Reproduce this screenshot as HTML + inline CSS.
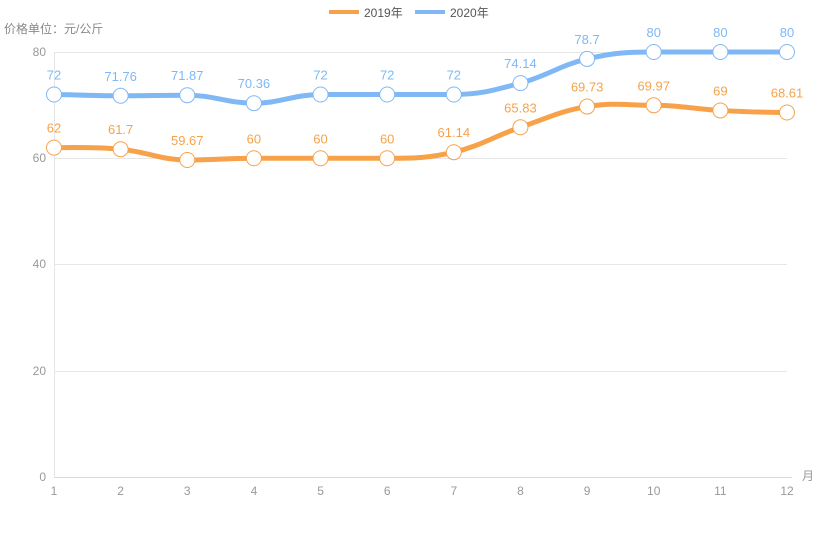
<!DOCTYPE html>
<html><head><meta charset="utf-8"><style>
body{margin:0;background:#fff;}
svg{display:block;font-family:"Liberation Sans","Noto Sans CJK SC",sans-serif;}
</style></head><body>
<svg id="c" width="838" height="545" xmlns="http://www.w3.org/2000/svg">
<rect width="838" height="545" fill="#fff"/>
<g stroke="#e6e6e6" stroke-width="1">
<line x1="54" y1="52.5" x2="787" y2="52.5"/>
<line x1="54" y1="158.5" x2="787" y2="158.5"/>
<line x1="54" y1="264.5" x2="787" y2="264.5"/>
<line x1="54" y1="371.5" x2="787" y2="371.5"/>
<line x1="54.5" y1="52" x2="54.5" y2="477"/>
</g>
<line x1="54" y1="477.5" x2="792" y2="477.5" stroke="#d8d8d8"/>
<g font-size="12" fill="#999" text-anchor="end">
<text x="46" y="56">80</text><text x="46" y="162">60</text><text x="46" y="268">40</text>
<text x="46" y="375">20</text><text x="46" y="481">0</text>
</g>
<text x="4" y="33" font-size="12" fill="#888">价格单位：元/公斤</text>
<text x="802" y="480" font-size="12" fill="#999">月</text>
<g id="xl" font-size="12" fill="#999" text-anchor="middle"></g>
<rect x="329" y="10" width="30" height="4" fill="#f7a24a"/>
<text x="364" y="17" font-size="12" fill="#555">2019年</text>
<rect x="415" y="10" width="30" height="4" fill="#7fb8f5"/>
<text x="450" y="17" font-size="12" fill="#555">2020年</text>
<g id="s"></g>
</svg>
<script>
var xs=[],i;for(i=0;i<12;i++)xs.push(54+i*66.636);
function Y(v){return 477-v*5.3125;}
var d19=[62,61.7,59.67,60,60,60,61.14,65.83,69.73,69.97,69,68.61];
var d20=[72,71.76,71.87,70.36,72,72,72,74.14,78.7,80,80,80];
var ns="http://www.w3.org/2000/svg";
function el(t,a,p,txt){var e=document.createElementNS(ns,t);for(var k in a)e.setAttribute(k,a[k]);if(txt!=null)e.textContent=txt;(p||document.getElementById('s')).appendChild(e);return e;}
var xl=document.getElementById('xl');
for(i=0;i<12;i++)el('text',{x:xs[i],y:495},xl,String(i+1));
function path(d){var p=d.map(function(v,i){return [xs[i],Y(v)];});var s="M"+p[0][0]+","+p[0][1];var t=0.4;
for(var i=0;i<p.length-1;i++){var p0=p[Math.max(0,i-1)],p1=p[i],p2=p[i+1],p3=p[Math.min(p.length-1,i+2)];
var c1x=p1[0]+(p2[0]-p0[0])*t/2,c1y=p1[1]+(p2[1]-p0[1])*t/2,c2x=p2[0]-(p3[0]-p1[0])*t/2,c2y=p2[1]-(p3[1]-p1[1])*t/2;
if((p1[1]-p0[1])*(p2[1]-p1[1])<=0)c1y=p1[1];if((p2[1]-p1[1])*(p3[1]-p2[1])<=0)c2y=p2[1];
s+=" C"+c1x+","+c1y+" "+c2x+","+c2y+" "+p2[0]+","+p2[1];}return s;}
function series(d,c){el('path',{d:path(d),fill:'none',stroke:c,'stroke-width':5,'stroke-linejoin':'round'});
d.forEach(function(v,i){el('circle',{cx:xs[i],cy:Y(v),r:7.5,fill:'#fff',stroke:c,'stroke-width':1});
el('text',{x:xs[i],y:Y(v)-15,'font-size':13,fill:c,'text-anchor':'middle'},null,String(v));});}
series(d19,'#f7a24a');series(d20,'#7fb8f5');
</script>
</body></html>
